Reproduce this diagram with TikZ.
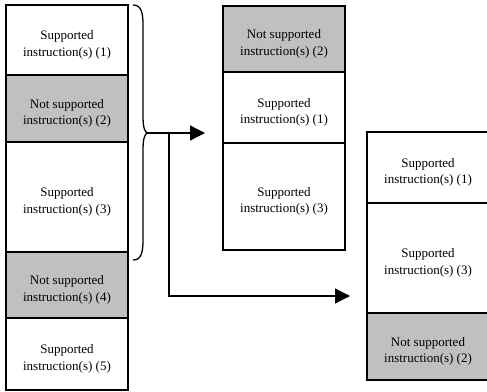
\documentclass[tikz,border=0pt]{standalone}
\usepackage{fontspec}
\setmainfont{Liberation Serif}
\usetikzlibrary{arrows.meta}
\definecolor{shade}{RGB}{192,192,192}
\tikzset{
  txt/.style={align=center, font=\fontsize{13}{16.5}\selectfont, yshift=-5pt},
  block/.style={draw, line width=1.3pt, minimum width=122pt, inner sep=0pt,
    label={[txt]center:#1}},
  nosup/.style={block={#1}, fill=shade},
  flow/.style={line width=1.3pt, -{Triangle[length=15pt,width=15pt]}}
}
\begin{document}
\begin{tikzpicture}[x=1pt,y=-1pt]
  \useasboundingbox (0,0) rectangle (487,391);
  % original order
  \node[block={Supported\\instruction(s) (1)}, minimum height=70pt] (l1) at (67,40) {};
  \node[nosup={Not supported\\instruction(s) (2)}, minimum height=67pt] (l2) at (67,108.5) {};
  \node[block={Supported\\instruction(s) (3)}, minimum height=110pt] (l3) at (67,197) {};
  \node[nosup={Not supported\\instruction(s) (4)}, minimum height=66pt] (l4) at (67,285) {};
  \node[block={Supported\\instruction(s) (5)}, minimum height=72pt] (l5) at (67,354) {};
  % moved to front
  \node[nosup={Not supported\\instruction(s) (2)}, minimum height=66pt] (m2) at (284,39) {};
  \node[block={Supported\\instruction(s) (1)}, minimum height=71pt] (m1) at (284,107.5) {};
  \node[block={Supported\\instruction(s) (3)}, minimum height=107pt] (m3) at (284,196.5) {};
  % moved to back
  \node[block={Supported\\instruction(s) (1)}, minimum height=71pt] (r1) at (428,167.5) {};
  \node[block={Supported\\instruction(s) (3)}, minimum height=110pt] (r3) at (428,258) {};
  \node[nosup={Not supported\\instruction(s) (2)}, minimum height=67pt] (r2) at (428,346.5) {};
  % brace
  \coordinate (tip) at (148,133);
  \draw[line width=1.3pt] (133,5) .. controls (141,5) and (143,12) .. (143,25)
    -- (143,116) .. controls (143,128) and (145,133) .. (tip)
    .. controls (145,133) and (143,138) .. (143,150)
    -- (143,240) .. controls (143,253) and (141,260) .. (133,260);
  \coordinate (fork) at (169,133);
  \coordinate (end1) at (205,133);
  \coordinate (end2) at (350,296);
  \begin{scope}[flow]
    \draw (tip) -- (end1);
    \draw (fork) |- (end2);
  \end{scope}
\end{tikzpicture}
\end{document}
